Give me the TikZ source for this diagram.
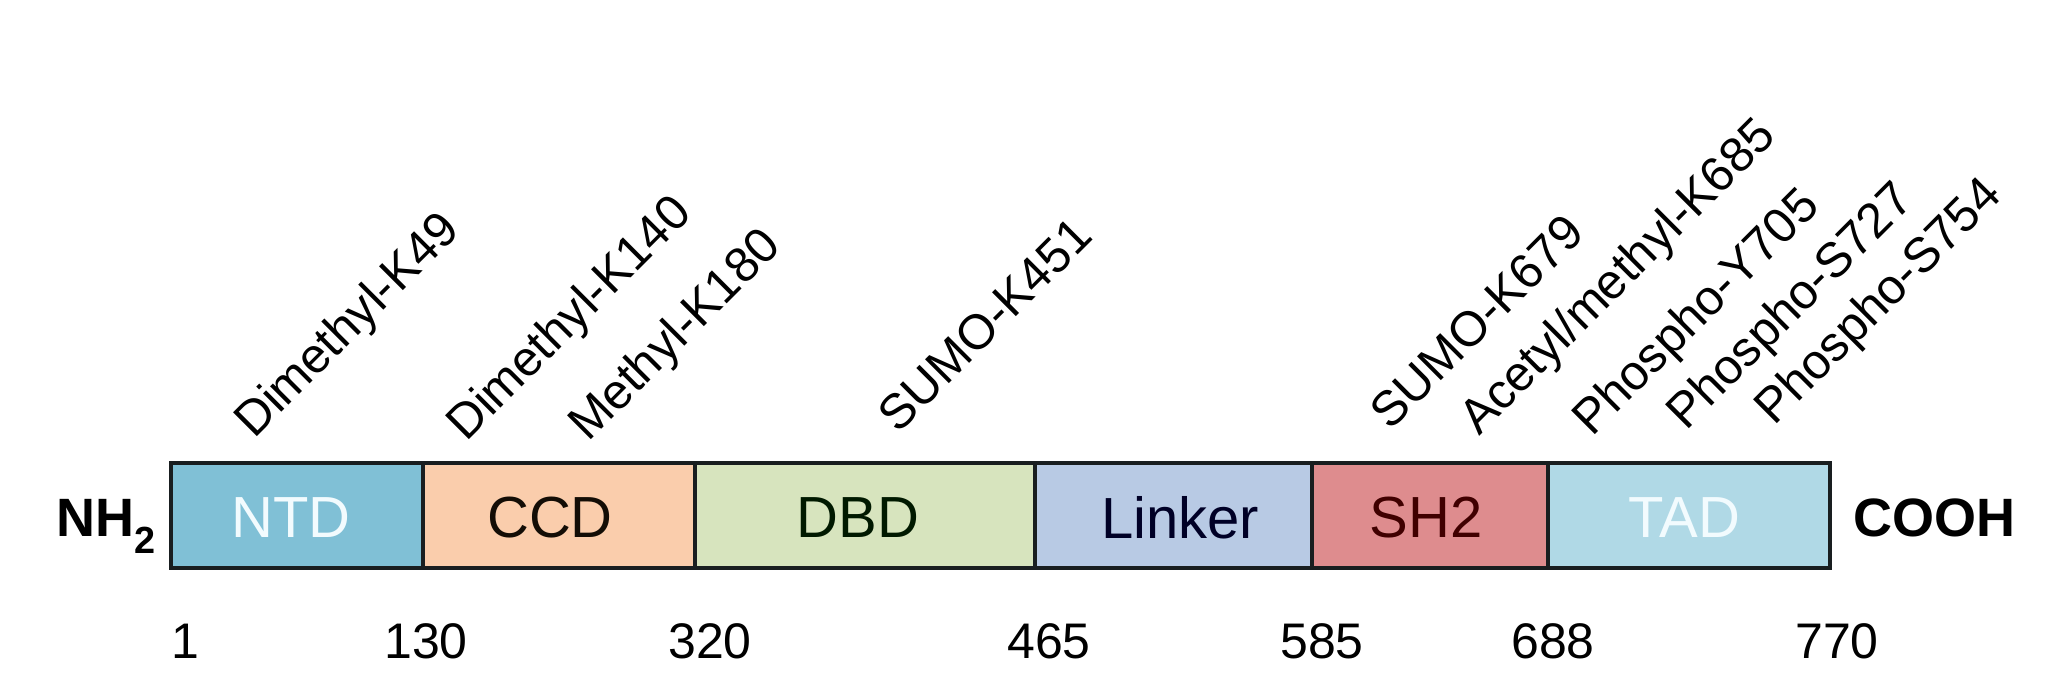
\documentclass[tikz,border=0pt]{standalone}
\usepackage{fontspec}
\setmainfont{Liberation Sans}
\definecolor{cNTD}{RGB}{128,192,214}
\definecolor{cCCD}{RGB}{250,205,172}
\definecolor{cDBD}{RGB}{215,228,190}
\definecolor{cLNK}{RGB}{184,202,228}
\definecolor{cSH2}{RGB}{222,140,142}
\definecolor{cTAD}{RGB}{176,217,230}
\definecolor{border}{RGB}{25,30,32}
\begin{document}
\begin{tikzpicture}[x=1pt,y=-1pt,
  dom/.style={draw=border, line width=4.5pt, minimum height=105pt, inner sep=0pt},
  dlab/.style={inner sep=0pt, font=\fontsize{58}{60}\selectfont},
  ptm/.style={rotate=45, anchor=base west, inner sep=0pt, font=\fontsize{49}{51}\selectfont},
  num/.style={anchor=base, inner sep=0pt, font=\fontsize{50}{52}\selectfont},
  term/.style={anchor=base west, inner sep=0pt, font=\bfseries\fontsize{54}{56}\selectfont}]
\useasboundingbox (0,0) rectangle (2070,678);
% domains
\node[dom, fill=cNTD, minimum width=252pt] (NTD) at (297,515.5) {};
\node[dom, fill=cCCD, minimum width=272pt] (CCD) at (559,515.5) {};
\node[dom, fill=cDBD, minimum width=340pt] (DBD) at (865,515.5) {};
\node[dom, fill=cLNK, minimum width=277pt] (LNK) at (1173.5,515.5) {};
\node[dom, fill=cSH2, minimum width=236pt] (SH2) at (1430,515.5) {};
\node[dom, fill=cTAD, minimum width=282pt] (TAD) at (1689,515.5) {};
% domain labels
\node[dlab, text=white!95!cyan] (tNTD) at (291,518) {NTD};
\node[dlab, text=black!90!brown] (tCCD) at (550,518) {CCD};
\node[dlab, text=black!90!green] (tDBD) at (858,518) {DBD};
\node[dlab, text=black!85!blue] (tLNK) at (1180,518) {Linker};
\node[dlab, text=black!75!red] (tSH2) at (1426,518) {SH2};
\node[dlab, text=white!95!cyan] (tTAD) at (1684,518) {TAD};
% termini
\node[term] (nh2) at (56,536) {NH\textsubscript{2}};
\node[term] (cooh) at (1853,536) {COOH};
% residue numbers
\node[num] (n1) at (185,658) {1};
\node[num] (n130) at (426,658) {130};
\node[num] (n320) at (710,658) {320};
\node[num] (n465) at (1049,658) {465};
\node[num] (n585) at (1322,658) {585};
\node[num] (n688) at (1553,658) {688};
\node[num] (n770) at (1837,658) {770};
% modification sites
\node[ptm] (m1) at (254,440) {Dimethyl-K49};
\node[ptm] (m2) at (466,443) {Dimethyl-K140};
\node[ptm] (m3) at (588,443) {Methyl-K180};
\node[ptm] (m4) at (898,435) {SUMO-K451};
\node[ptm] (m5) at (1390,432) {SUMO-K679};
\node[ptm] (m6) at (1479,437) {Acetyl/methyl-K685};
\node[ptm] (m7) at (1592,438) {Phospho-Y705};
\node[ptm] (m8) at (1686,432) {Phospho-S727};
\node[ptm] (m9) at (1774,427) {Phospho-S754};
\end{tikzpicture}
\end{document}
